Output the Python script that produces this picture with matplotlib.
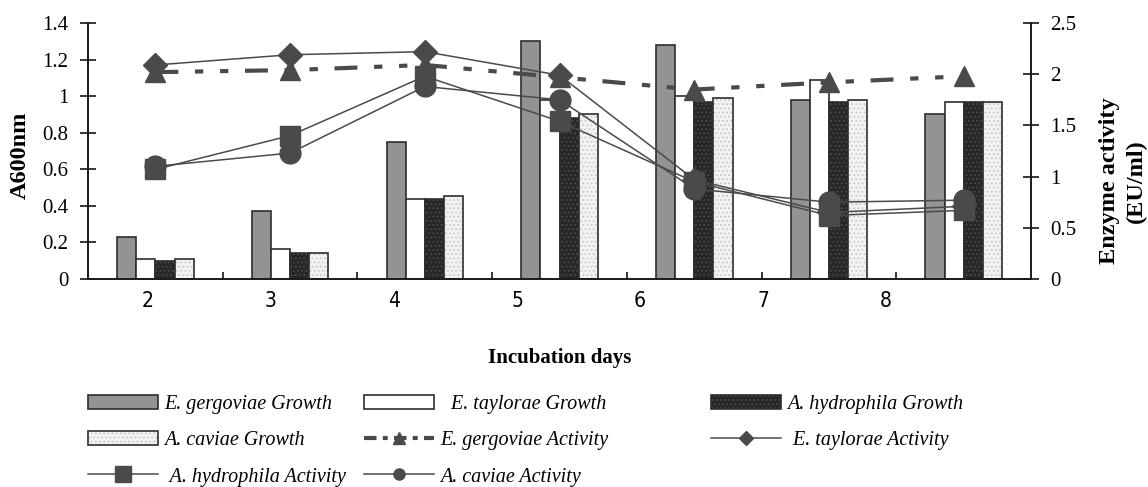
import numpy as np
import matplotlib
matplotlib.use('Agg')
import matplotlib.pyplot as plt
from matplotlib.patches import Patch
from matplotlib.lines import Line2D
from matplotlib.legend_handler import HandlerTuple

# incubation days (categories)
days = ['2', '3', '4', '5', '6', '7', '8']

# growth, A600nm (left axis)
eg_growth = [0.23, 0.37, 0.75, 1.30, 1.28, 0.98, 0.90]
et_growth = [0.11, 0.165, 0.44, 0.98, 1.00, 1.09, 0.97]
ah_growth = [0.10, 0.14, 0.44, 0.88, 0.97, 0.97, 0.97]
ac_growth = [0.11, 0.14, 0.455, 0.90, 0.99, 0.98, 0.97]

# enzyme activity, EU/ml (right axis)
eg_activity = [2.02, 2.04, 2.09, 1.97, 1.85, 1.92, 1.98]
et_activity = [2.09, 2.19, 2.22, 1.99, 0.97, 0.65, 0.71]
ah_activity = [1.07, 1.40, 1.98, 1.54, 0.95, 0.62, 0.67]
ac_activity = [1.10, 1.23, 1.88, 1.75, 0.88, 0.75, 0.77]

left_ticks = [0, 0.2, 0.4, 0.6, 0.8, 1.0, 1.2, 1.4]
left_ticklabels = ['0', '0.2', '0.4', '0.6', '0.8', '1', '1.2', '1.4']
right_ticks = [0, 0.5, 1.0, 1.5, 2.0, 2.5]
right_ticklabels = ['0', '0.5', '1', '1.5', '2', '2.5']

LINE = '#494b49'
EDGE = '#2e2e2e'


def main():
    plt.rcParams['font.family'] = ['Liberation Serif', 'DejaVu Serif']
    plt.rcParams['hatch.linewidth'] = 0.7

    fig = plt.figure(figsize=(11.48, 4.87), dpi=100)
    ax = fig.add_axes([0.0767, 0.4271, 0.8214, 0.5257])
    ax2 = ax.twinx()

    x = np.arange(len(days))
    w = 0.142

    # plain bars
    ax.bar(x - 1.5 * w, eg_growth, w, color='#939393', edgecolor=EDGE, linewidth=1.2)
    ax.bar(x - 0.5 * w, et_growth, w, color='white', edgecolor=EDGE, linewidth=1.2)
    # dotted bars: hatch layer + outline layer
    ax.bar(x + 0.5 * w, ah_growth, w, color='#272727', edgecolor='#4f4f4f', hatch='....', linewidth=0)
    ax.bar(x + 0.5 * w, ah_growth, w, fill=False, edgecolor=EDGE, linewidth=1.2)
    ax.bar(x + 1.5 * w, ac_growth, w, color='#f2f2f2', edgecolor='#c4c4c4', hatch='....', linewidth=0)
    ax.bar(x + 1.5 * w, ac_growth, w, fill=False, edgecolor=EDGE, linewidth=1.2)

    # activity lines
    ax2.plot(x, eg_activity, color=LINE, lw=3, dashes=(5.5, 4, 2, 4, 2, 4),
             dash_capstyle='butt', marker='^', ms=15, mec=LINE, mfc=LINE)
    ax2.plot(x, et_activity, color=LINE, lw=1.1, marker='D', ms=12, mec=LINE, mfc=LINE)
    ax2.plot(x, ah_activity, color=LINE, lw=1.1, marker='s', ms=14, mec=LINE, mfc=LINE)
    ax2.plot(x, ac_activity, color=LINE, lw=1.1, marker='o', ms=15, mec=LINE, mfc=LINE)

    ax.set_xlim(-0.5, len(days) - 0.5)
    ax.set_ylim(0, 1.4)
    ax2.set_ylim(0, 2.5)

    for a in (ax, ax2):
        a.spines['top'].set_visible(False)
        for s in ('left', 'right', 'bottom'):
            a.spines[s].set_color('#1a1a1a')
            a.spines[s].set_linewidth(1.2)

    ax.set_yticks(left_ticks)
    ax.set_yticklabels(left_ticklabels)
    ax2.set_yticks(right_ticks)
    ax2.set_yticklabels(right_ticklabels)
    ax.tick_params(axis='y', direction='inout', length=12, width=1.1, pad=8, labelsize=15)
    ax2.tick_params(axis='y', direction='inout', length=12, width=1.1, pad=8, labelsize=15)

    # tick marks between categories, labels placed separately
    ax.set_xticks(np.arange(len(days) - 1) + 0.5)
    ax.set_xticklabels([])
    ax.tick_params(axis='x', direction='in', length=5, width=1.1)
    for i, d in enumerate(days):
        xf = (148 + 123 * i - 88) / 943
        ax.text(xf, -0.084, d, transform=ax.transAxes, ha='center', va='center',
                family='DejaVu Sans', fontstretch='condensed', fontsize=15)

    ax.text(0.5, -0.307, 'Incubation days', transform=ax.transAxes, ha='center',
            va='center', fontsize=15, fontweight='bold')
    fig.text(20 / 1148, 1 - 155 / 487, 'A600nm', rotation=90, ha='center', va='center',
             fontsize=17.5, fontweight='bold')
    fig.text(1123 / 1148, 1 - 181 / 487, 'Enzyme activity\n(EU/ml)', rotation=90,
             ha='center', va='center', multialignment='center', fontsize=17.5,
             fontweight='bold', linespacing=1.3)

    # legend, built as three columns
    h_eg = Patch(facecolor='#939393', edgecolor=EDGE, linewidth=1.2)
    h_et = Patch(facecolor='white', edgecolor=EDGE, linewidth=1.2)
    h_ah = (Patch(facecolor='#272727', edgecolor='#4f4f4f', hatch='....', linewidth=0),
            Patch(fill=False, edgecolor=EDGE, linewidth=1.2))
    h_ac = (Patch(facecolor='#f2f2f2', edgecolor='#c4c4c4', hatch='....', linewidth=0),
            Patch(fill=False, edgecolor=EDGE, linewidth=1.2))
    l_eg = Line2D([], [], color=LINE, lw=3, dashes=(3, 1.5, 1.2, 1.5), marker='^', ms=9, mfc=LINE, mec=LINE)
    l_et = Line2D([], [], color=LINE, lw=1.1, marker='D', ms=7, mfc=LINE, mec=LINE)
    l_ah = Line2D([], [], color=LINE, lw=1.1, marker='s', ms=12, mfc=LINE, mec=LINE)
    l_ac = Line2D([], [], color=LINE, lw=1.1, marker='o', ms=8, mfc=LINE, mec=LINE)

    columns = [
        ([h_eg, h_ac, l_ah], ['E. gergoviae Growth', 'A. caviae Growth', ' A. hydrophila Activity']),
        ([h_et, l_eg, l_ac], ['  E. taylorae Growth', 'E. gergoviae Activity', 'A. caviae Activity']),
        ([h_ah, l_et], ['A. hydrophila Growth', ' E. taylorae Activity']),
    ]
    col_x = [88, 364, 711]
    for (hs, ls), cx in zip(columns, col_x):
        fig.legend(hs, ls, loc='upper left', bbox_to_anchor=(cx / 1148, 1 - 395 / 487),
                   frameon=False,
                   prop={'family': 'Liberation Serif', 'style': 'italic', 'size': 14.5},
                   handlelength=3.5, handleheight=0.7, handletextpad=0.3,
                   labelspacing=0.85, borderpad=0, borderaxespad=0,
                   handler_map={tuple: HandlerTuple(ndivide=1, pad=0)})

    fig.savefig('out.png', dpi=100)


if __name__ == "__main__":
    main()
